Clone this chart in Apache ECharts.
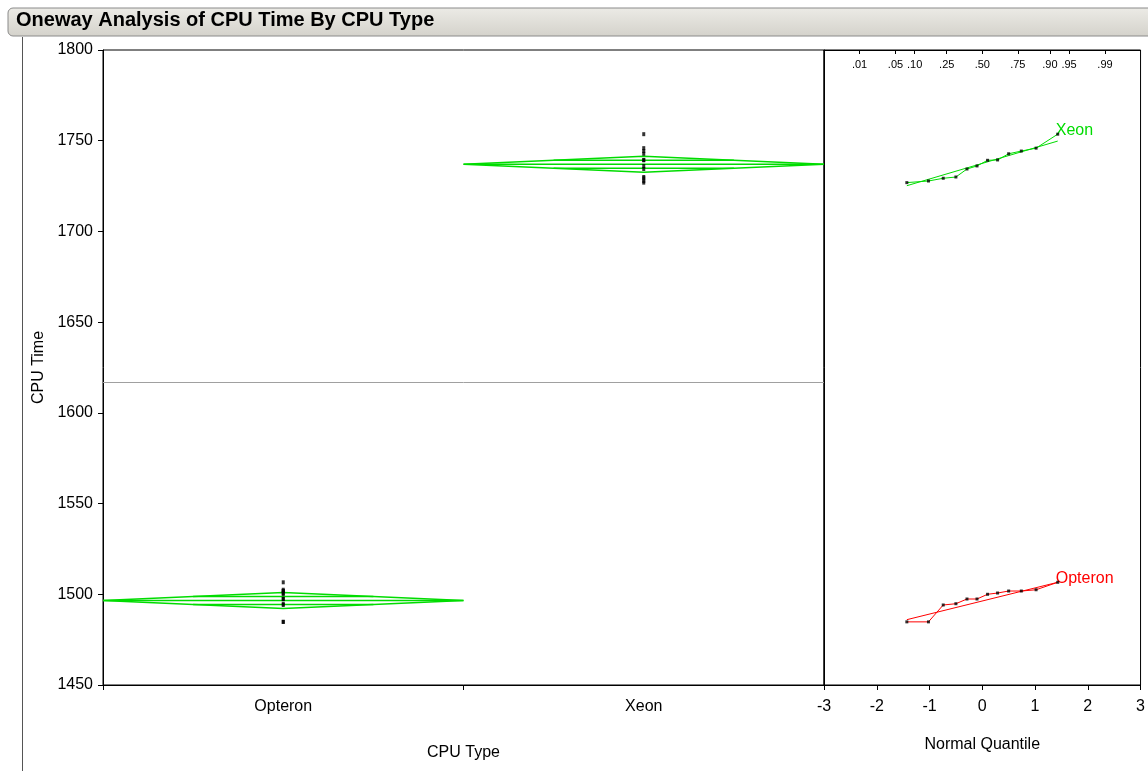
<!DOCTYPE html>
<html>
<head>
<meta charset="utf-8">
<script src="https://cdn.jsdelivr.net/npm/echarts@6/dist/echarts.min.js"></script>
<style>
html,body{margin:0;padding:0;background:#fff;}
#chart{width:1148px;height:771px;}
</style>
</head>
<body>
<div id="chart"></div>
<script>
// ---- data ----
const categories = ['Opteron', 'Xeon'];
const opteronTimes = [1484.8, 1484.8, 1494.1, 1494.8, 1497.4, 1497.4, 1500.0, 1500.7, 1501.8, 1501.8, 1502.5, 1506.6];
const xeonTimes = [1726.9, 1727.8, 1729.3, 1730.0, 1734.4, 1736.1, 1739.2, 1739.4, 1742.8, 1744.3, 1745.9, 1753.6];
const groupMeans = [1496.6, 1737.0];
const ciHalfWidth = [4.4, 4.4];
const grandMean = 1617;
// normal quantiles of the sorted points
const normalQuantiles = [-1.43, -1.02, -0.74, -0.50, -0.29, -0.10, 0.10, 0.29, 0.50, 0.74, 1.02, 1.43];
// fitted lines in the quantile plot (end points)
const opteronFit = [[-1.43, 1486.0], [1.43, 1506.6]];
const xeonFit = [[-1.43, 1725.2], [1.43, 1749.8]];
// top probability scale
const probTickZ = [-2.326, -1.645, -1.2816, -0.674, 0, 0.674, 1.2816, 1.645, 2.326];
const probTickLabels = ['.01', '.05', '.10', '.25', '.50', '.75', '.90', '.95', '.99'];
const yTicks = { min: 1450, max: 1800, interval: 50 };
const zTicks = { min: -3, max: 3, interval: 1 };

const GREEN = '#00dc00';
const RED = '#ff0000';
const FONT = 'Liberation Sans, Arial, sans-serif';
const FS = 16;

const chart = echarts.init(document.getElementById('chart'), null, { renderer: 'canvas' });

function diamondRender(params, api) {
  const cat = api.value(0), m = api.value(1), h = api.value(2);
  const c = api.coord([cat, m]);
  const top = api.coord([cat, m + h]);
  const bot = api.coord([cat, m - h]);
  const hw = api.size([1, 0])[0] / 2;
  const dy = c[1] - top[1];
  const r = 0.5;
  const oy = dy * r, ow = hw * (1 - r);
  const st = { stroke: GREEN, fill: null, lineWidth: 1.5 };
  return {
    type: 'group',
    children: [
      { type: 'polygon', shape: { points: [[c[0] - hw, c[1]], [c[0], top[1]], [c[0] + hw, c[1]], [c[0], bot[1]]] }, style: st },
      { type: 'line', shape: { x1: c[0] - hw, y1: c[1], x2: c[0] + hw, y2: c[1] }, style: st },
      { type: 'line', shape: { x1: c[0] - ow, y1: c[1] - oy, x2: c[0] + ow, y2: c[1] - oy }, style: st },
      { type: 'line', shape: { x1: c[0] - ow, y1: c[1] + oy, x2: c[0] + ow, y2: c[1] + oy }, style: st }
    ]
  };
}

const pointStyle = { color: '#000' };

const option = {
  backgroundColor: '#fff',
  animation: false,
  textStyle: { fontFamily: FONT },
  graphic: [
    { type: 'rect', shape: { x: 8, y: 8, width: 1160, height: 28, r: [5, 0, 0, 5] },
      style: { fill: new echarts.graphic.LinearGradient(0, 0, 0, 1, [{ offset: 0, color: '#ecebe6' }, { offset: 1, color: '#d4d2cb' }]), stroke: '#8a8a8a', lineWidth: 1 } },
    { type: 'text', left: 16, top: 10,
      style: { text: 'Oneway Analysis of CPU Time By CPU Type', font: 'bold 20px ' + FONT, fill: '#000' } },
    { type: 'line', shape: { x1: 22.5, y1: 37, x2: 22.5, y2: 771 }, style: { stroke: '#555', lineWidth: 1 } }
  ],
  grid: [
    { left: 103, top: 50, width: 721, height: 635, show: true, borderColor: '#000', borderWidth: 1, backgroundColor: 'transparent' },
    { left: 824, top: 50, width: 320, height: 635, show: true, borderColor: '#000', borderWidth: 1, backgroundColor: 'transparent' }
  ],
  xAxis: [
    { type: 'category', gridIndex: 0, data: categories, boundaryGap: true,
      name: 'CPU Type', nameLocation: 'middle', nameGap: 60,
      nameTextStyle: { fontSize: FS, color: '#000', fontFamily: FONT },
      axisLine: { lineStyle: { color: '#000' } },
      axisTick: { show: true, length: 5, lineStyle: { color: '#000' } },
      axisLabel: { fontSize: FS, color: '#000', margin: 14, fontFamily: FONT },
      splitLine: { show: false } },
    { type: 'value', gridIndex: 1, min: zTicks.min, max: zTicks.max, interval: zTicks.interval,
      name: 'Normal Quantile', nameLocation: 'middle', nameGap: 52,
      nameTextStyle: { fontSize: FS, color: '#000', fontFamily: FONT },
      axisLine: { onZero: false, lineStyle: { color: '#000' } },
      axisTick: { show: true, length: 5, lineStyle: { color: '#000' } },
      axisLabel: { fontSize: FS, color: '#000', margin: 14, fontFamily: FONT, showMinLabel: true, showMaxLabel: true },
      splitLine: { show: false } },
    { type: 'value', gridIndex: 1, position: 'top', min: zTicks.min, max: zTicks.max,
      axisLine: { show: true, onZero: false, lineStyle: { color: '#000' } },
      axisTick: { show: true, inside: true, length: 4, customValues: probTickZ, lineStyle: { color: '#000' } },
      axisLabel: { show: true, inside: true, customValues: probTickZ, fontSize: 11, color: '#000', margin: 9,
        formatter: function (v) {
          for (let i = 0; i < probTickZ.length; i++) { if (Math.abs(probTickZ[i] - v) < 1e-6) return probTickLabels[i]; }
          return '';
        } },
      splitLine: { show: false } }
  ],
  yAxis: [
    { type: 'value', gridIndex: 0, min: yTicks.min, max: yTicks.max, interval: yTicks.interval,
      name: 'CPU Time', nameLocation: 'middle', nameGap: 52, nameRotate: 90,
      nameTextStyle: { fontSize: FS, color: '#000', fontFamily: FONT },
      axisLine: { show: true, onZero: false, lineStyle: { color: '#000' } },
      axisTick: { show: true, length: 5, lineStyle: { color: '#000' } },
      axisLabel: { fontSize: FS, color: '#000', margin: 10, fontFamily: FONT, formatter: v => String(v) },
      splitLine: { show: false } },
    { type: 'value', gridIndex: 1, min: yTicks.min, max: yTicks.max, interval: yTicks.interval,
      axisLine: { show: true, onZero: false, lineStyle: { color: '#000' } },
      axisTick: { show: false }, axisLabel: { show: false }, splitLine: { show: false } }
  ],
  series: [
    { type: 'custom', xAxisIndex: 0, yAxisIndex: 0, renderItem: diamondRender, silent: true, z: 2,
      data: groupMeans.map((m, i) => [i, m, ciHalfWidth[i]]) },
    { type: 'scatter', xAxisIndex: 0, yAxisIndex: 0, symbol: 'rect', symbolSize: [3, 4], itemStyle: pointStyle, z: 5,
      data: opteronTimes.map(v => [0, v]).concat(xeonTimes.map(v => [1, v])),
      markLine: { silent: true, symbol: 'none', label: { show: false },
        lineStyle: { color: '#a0a0a0', width: 1, type: 'solid' }, data: [{ yAxis: grandMean }] } },
    // quantile plot: fitted lines
    { type: 'line', xAxisIndex: 1, yAxisIndex: 1, data: xeonFit, symbol: 'none', lineStyle: { color: GREEN, width: 1 }, z: 3 },
    { type: 'line', xAxisIndex: 1, yAxisIndex: 1, data: opteronFit, symbol: 'none', lineStyle: { color: RED, width: 1 }, z: 3 },
    // connecting lines through the points
    { type: 'line', xAxisIndex: 1, yAxisIndex: 1, data: normalQuantiles.map((z, i) => [z, xeonTimes[i]]),
      symbol: 'none', lineStyle: { color: GREEN, width: 1 }, z: 3,
      endLabel: { show: true, formatter: 'Xeon', color: GREEN, fontSize: FS, fontFamily: FONT, distance: -2, offset: [0, -4] } },
    { type: 'line', xAxisIndex: 1, yAxisIndex: 1, data: normalQuantiles.map((z, i) => [z, opteronTimes[i]]),
      symbol: 'none', lineStyle: { color: RED, width: 1 }, z: 3,
      endLabel: { show: true, formatter: 'Opteron', color: RED, fontSize: FS, fontFamily: FONT, distance: -2, offset: [0, -4] } },
    // quantile points
    { type: 'scatter', xAxisIndex: 1, yAxisIndex: 1, symbol: 'rect', symbolSize: 3, itemStyle: pointStyle, z: 5,
      data: normalQuantiles.map((z, i) => [z, xeonTimes[i]]).concat(normalQuantiles.map((z, i) => [z, opteronTimes[i]])) }
  ]
};
chart.setOption(option);
</script>
</body>
</html>
